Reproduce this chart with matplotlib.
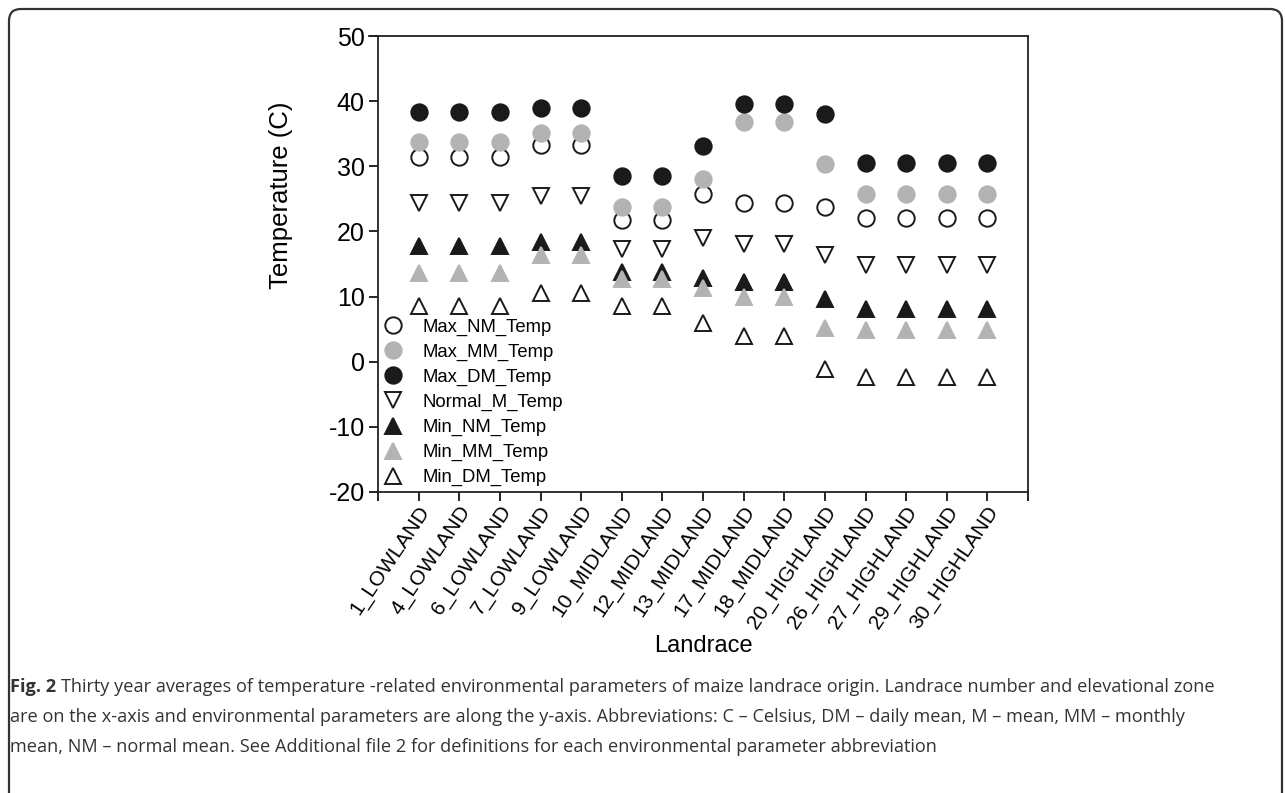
import numpy as np
import matplotlib.pyplot as plt
import matplotlib.transforms as mtransforms
from matplotlib.patches import FancyBboxPatch
from matplotlib.lines import Line2D

# Landraces (number_zone)
landraces = ["1_LOWLAND", "4_LOWLAND", "6_LOWLAND", "7_LOWLAND", "9_LOWLAND",
             "10_MIDLAND", "12_MIDLAND", "13_MIDLAND", "17_MIDLAND", "18_MIDLAND",
             "20_HIGHLAND", "26_HIGHLAND", "27_HIGHLAND", "29_HIGHLAND", "30_HIGHLAND"]

# temperatures (C)
max_nm = [31.4, 31.4, 31.4, 33.2, 33.2, 21.7, 21.7, 25.7, 24.3, 24.3, 23.8, 22.1, 22.1, 22.1, 22.1]
max_mm = [33.7, 33.7, 33.7, 35.1, 35.1, 23.7, 23.7, 28.1, 36.8, 36.8, 30.3, 25.7, 25.7, 25.7, 25.7]
max_dm = [38.4, 38.4, 38.4, 38.9, 38.9, 28.5, 28.5, 33.1, 39.6, 39.6, 38.0, 30.5, 30.5, 30.5, 30.5]
normal_m = [24.4, 24.4, 24.4, 25.5, 25.5, 17.3, 17.3, 19.0, 18.0, 18.0, 16.4, 14.8, 14.8, 14.8, 14.8]
min_nm = [17.8, 17.8, 17.8, 18.4, 18.4, 13.8, 13.8, 12.8, 12.2, 12.2, 9.6, 8.1, 8.1, 8.1, 8.1]
min_mm = [13.6, 13.6, 13.6, 16.4, 16.4, 12.7, 12.7, 11.3, 10.0, 10.0, 5.2, 4.9, 4.9, 4.9, 4.9]
min_dm = [8.6, 8.6, 8.6, 10.6, 10.6, 8.5, 8.5, 5.9, 4.0, 4.0, -1.1, -2.3, -2.3, -2.3, -2.3]

series = [
    ("Max_NM_Temp", max_nm, "o", "white", "#1a1a1a"),
    ("Max_MM_Temp", max_mm, "o", "#b3b3b3", "#b3b3b3"),
    ("Max_DM_Temp", max_dm, "o", "#1a1a1a", "#1a1a1a"),
    ("Normal_M_Temp", normal_m, "v", "white", "#1a1a1a"),
    ("Min_NM_Temp", min_nm, "^", "#1a1a1a", "#1a1a1a"),
    ("Min_MM_Temp", min_mm, "^", "#b3b3b3", "#b3b3b3"),
    ("Min_DM_Temp", min_dm, "^", "white", "#1a1a1a"),
]

plt.rcParams["font.family"] = ["Liberation Sans", "DejaVu Sans"]
plt.rcParams["axes.unicode_minus"] = False

fig = plt.figure(figsize=(12.85, 7.93), dpi=100)
ax = fig.add_axes([378 / 1285, 1 - 492 / 793, 650 / 1285, 456 / 793])

x = np.arange(1, len(landraces) + 1)
for name, vals, mk, fc, ec in series:
    ms = 11.8 if mk == "o" else 11.2
    ax.plot(x, vals, linestyle="none", marker=mk, markersize=ms,
            markerfacecolor=fc, markeredgecolor=ec, markeredgewidth=1.4,
            label=name)

ax.set_xlim(0, len(landraces) + 1)
ax.set_ylim(-20, 50)
ax.set_yticks(np.arange(-20, 51, 10))
ax.set_xticks(np.arange(0, len(landraces) + 2))
ax.set_xticklabels([""] + landraces + [""], rotation=56, ha="right",
                   va="top", rotation_mode="anchor", fontsize=15)
ax.tick_params(axis="y", labelsize=18, direction="out", length=6.5, width=1.2,
               right=False, pad=3)
ax.tick_params(axis="x", direction="out", length=6.5, width=1.2, top=False, pad=4)
shift = mtransforms.ScaledTranslation(-1 / 100, 4 / 100, fig.dpi_scale_trans)
for lbl in ax.get_xticklabels():
    lbl.set_transform(lbl.get_transform() + shift)

for s in ax.spines.values():
    s.set_linewidth(1.3)
    s.set_color("#222222")
# SigmaPlot-style frame: top line reaches out to the tick column
ax.add_line(Line2D([-9 / 650, 0], [1, 1], transform=ax.transAxes, color="#222222",
                   lw=1.3, clip_on=False))

ax.set_ylabel("Temperature (C)", fontsize=18.5)
ax.yaxis.set_label_coords(-0.131, 0.651)
ax.set_xlabel("Landrace", fontsize=17)
ax.xaxis.set_label_coords(0.5, -0.3136)

leg = ax.legend(loc="lower left", bbox_to_anchor=(0, 0), frameon=False,
                fontsize=13.3, handlelength=1.0, handletextpad=1.1,
                labelspacing=0.43, borderaxespad=0.1, borderpad=0.2)

# outer figure frame (display coords, origin bottom-left)
frame = FancyBboxPatch((9, -40), 1273, 824, boxstyle="round,pad=0,rounding_size=12",
                       transform=None, fill=False, edgecolor="#333333", lw=1.6)
fig.patches.append(frame)

# caption
cap_font = ["Open Sans", "DejaVu Sans"]
cap_size = 13.1
fig.canvas.draw()
r = fig.canvas.get_renderer()
y1 = 1 - 687 / 793
t_bold = fig.text(10 / 1285, y1, "Fig. 2", fontsize=cap_size, fontweight="bold",
                  family=cap_font, color="#333333", va="center")
w = t_bold.get_window_extent(r).width
fig.text((10 + w + 5) / 1285, y1,
         "Thirty year averages of temperature -related environmental parameters of maize landrace origin. Landrace number and elevational zone",
         fontsize=cap_size, family=cap_font, color="#333333", va="center")
fig.text(10 / 1285, 1 - 717 / 793,
         "are on the x-axis and environmental parameters are along the y-axis. Abbreviations: C \u2013 Celsius, DM \u2013 daily mean, M \u2013 mean, MM \u2013 monthly",
         fontsize=cap_size, family=cap_font, color="#333333", va="center")
fig.text(10 / 1285, 1 - 747 / 793,
         "mean, NM \u2013 normal mean. See Additional file 2 for definitions for each environmental parameter abbreviation",
         fontsize=cap_size, family=cap_font, color="#333333", va="center")

fig.savefig("out.png", dpi=100)
